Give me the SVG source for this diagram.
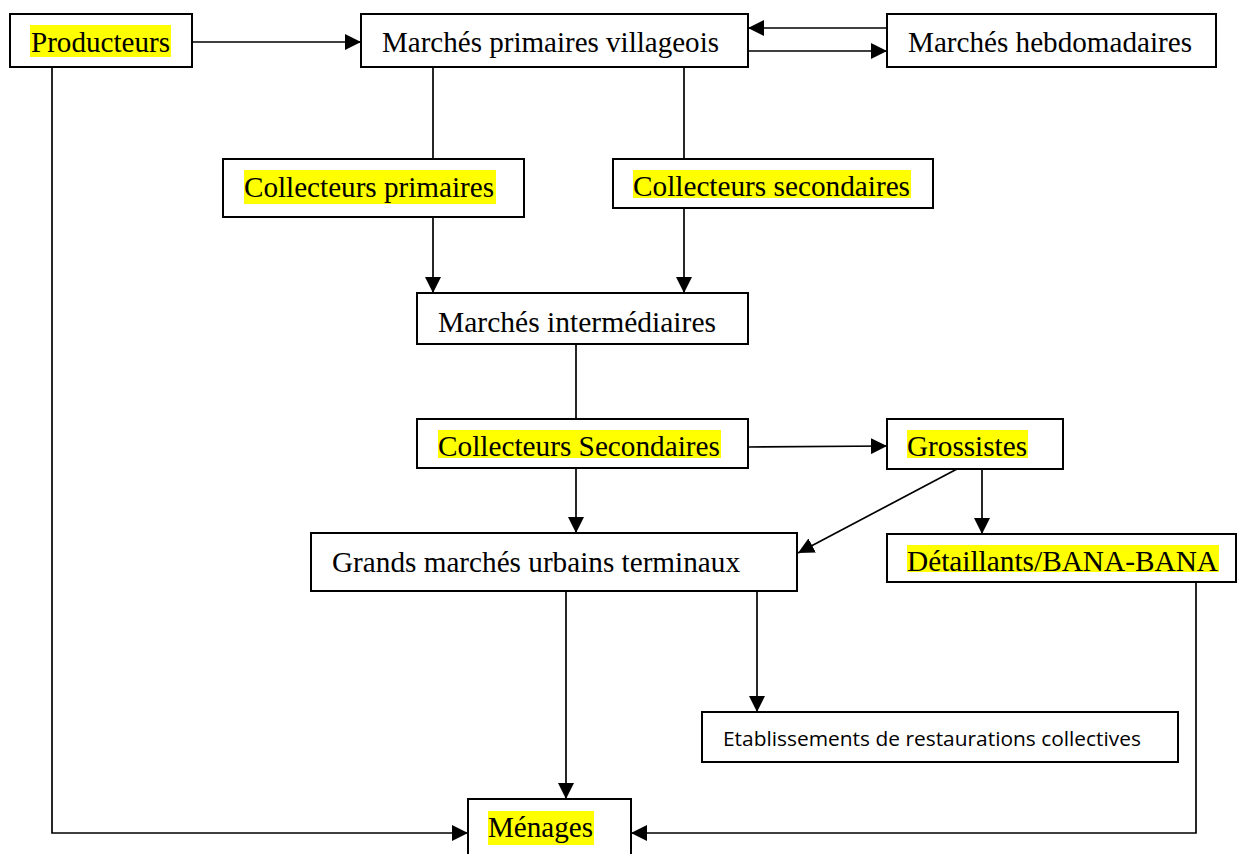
<svg xmlns="http://www.w3.org/2000/svg" width="1238" height="854" viewBox="0 0 1238 854">
<style>
.box{fill:#fff;stroke:#000;stroke-width:2}
.hl{fill:#ffff00}
.t{font-family:"Liberation Serif","Times New Roman",serif;font-size:29px;fill:#000}
.s{font-family:"Open Sans","Noto Sans",sans-serif;font-size:20px;fill:#000}
.c{fill:none;stroke:#000;stroke-width:1.7}
</style>
<defs>
<marker id="ah" markerUnits="userSpaceOnUse" markerWidth="17" markerHeight="16" refX="16" refY="8" orient="auto">
<path d="M0,0 L16,8 L0,16 z" fill="#000"/>
</marker>
</defs>
<rect width="1238" height="854" fill="#fff"/>
<g id="connectors">
<path class="c" d="M192,42 H361" marker-end="url(#ah)"/>
<path class="c" d="M887,28 H748" marker-end="url(#ah)"/>
<path class="c" d="M748,51 H887" marker-end="url(#ah)"/>
<path class="c" d="M433,67 V159"/>
<path class="c" d="M684,67 V159"/>
<path class="c" d="M433,217 V293" marker-end="url(#ah)"/>
<path class="c" d="M684,208 V293" marker-end="url(#ah)"/>
<path class="c" d="M576,344 V419"/>
<path class="c" d="M748,447 L887,446" marker-end="url(#ah)"/>
<path class="c" d="M576,468 V533" marker-end="url(#ah)"/>
<path class="c" d="M957,469 L798,553" marker-end="url(#ah)"/>
<path class="c" d="M982,469 V534" marker-end="url(#ah)"/>
<path class="c" d="M566,591 V799" marker-end="url(#ah)"/>
<path class="c" d="M757,591 V712" marker-end="url(#ah)"/>
<path class="c" d="M52,67 V833 H468" marker-end="url(#ah)"/>
<path class="c" d="M1196,582 V833 H631" marker-end="url(#ah)"/>
</g>
<g id="producteurs">
<rect class="box" x="10" y="14" width="182" height="53"/>
<rect class="hl" x="30" y="25" width="141" height="32"/>
<text class="t" x="31" y="52" textLength="139" lengthAdjust="spacingAndGlyphs">Producteurs</text>
</g>
<g id="marches-primaires">
<rect class="box" x="361" y="14" width="387" height="53"/>
<text class="t" x="382" y="52" textLength="337" lengthAdjust="spacingAndGlyphs">Marchés primaires villageois</text>
</g>
<g id="marches-hebdo">
<rect class="box" x="887" y="14" width="329" height="53"/>
<text class="t" x="908" y="52" textLength="284" lengthAdjust="spacingAndGlyphs">Marchés hebdomadaires</text>
</g>
<g id="collecteurs-primaires">
<rect class="box" x="223" y="159" width="301" height="58"/>
<rect class="hl" x="244" y="170" width="252" height="34"/>
<text class="t" x="244" y="197" textLength="250" lengthAdjust="spacingAndGlyphs">Collecteurs primaires</text>
</g>
<g id="collecteurs-secondaires">
<rect class="box" x="613" y="159" width="320" height="49"/>
<rect class="hl" x="633" y="170" width="278" height="28"/>
<text class="t" x="633" y="196" textLength="277" lengthAdjust="spacingAndGlyphs">Collecteurs secondaires</text>
</g>
<g id="marches-intermediaires">
<rect class="box" x="417" y="293" width="331" height="51"/>
<text class="t" x="438" y="332" textLength="278" lengthAdjust="spacingAndGlyphs">Marchés intermédiaires</text>
</g>
<g id="collecteurs-secondaires-2">
<rect class="box" x="417" y="419" width="331" height="49"/>
<rect class="hl" x="438" y="430" width="283" height="28"/>
<text class="t" x="438" y="456" textLength="282" lengthAdjust="spacingAndGlyphs">Collecteurs Secondaires</text>
</g>
<g id="grossistes">
<rect class="box" x="887" y="419" width="176" height="50"/>
<rect class="hl" x="907" y="430" width="121" height="28"/>
<text class="t" x="907" y="456" textLength="120" lengthAdjust="spacingAndGlyphs">Grossistes</text>
</g>
<g id="grands-marches">
<rect class="box" x="311" y="533" width="486" height="58"/>
<text class="t" x="332" y="572" textLength="408" lengthAdjust="spacingAndGlyphs">Grands marchés urbains terminaux</text>
</g>
<g id="detaillants">
<rect class="box" x="887" y="534" width="349" height="48"/>
<rect class="hl" x="907" y="545" width="312" height="27"/>
<text class="t" x="907" y="571" textLength="311" lengthAdjust="spacingAndGlyphs">Détaillants/BANA-BANA</text>
</g>
<g id="etablissements">
<rect class="box" x="702" y="712" width="476" height="50"/>
<text class="s" x="723" y="746" textLength="418" lengthAdjust="spacingAndGlyphs">Etablissements de restaurations collectives</text>
</g>
<g id="menages">
<rect class="box" x="468" y="799" width="163" height="70"/>
<rect class="hl" x="488" y="811" width="106" height="34"/>
<text class="t" x="488" y="837" textLength="105" lengthAdjust="spacingAndGlyphs">Ménages</text>
</g>
</svg>
